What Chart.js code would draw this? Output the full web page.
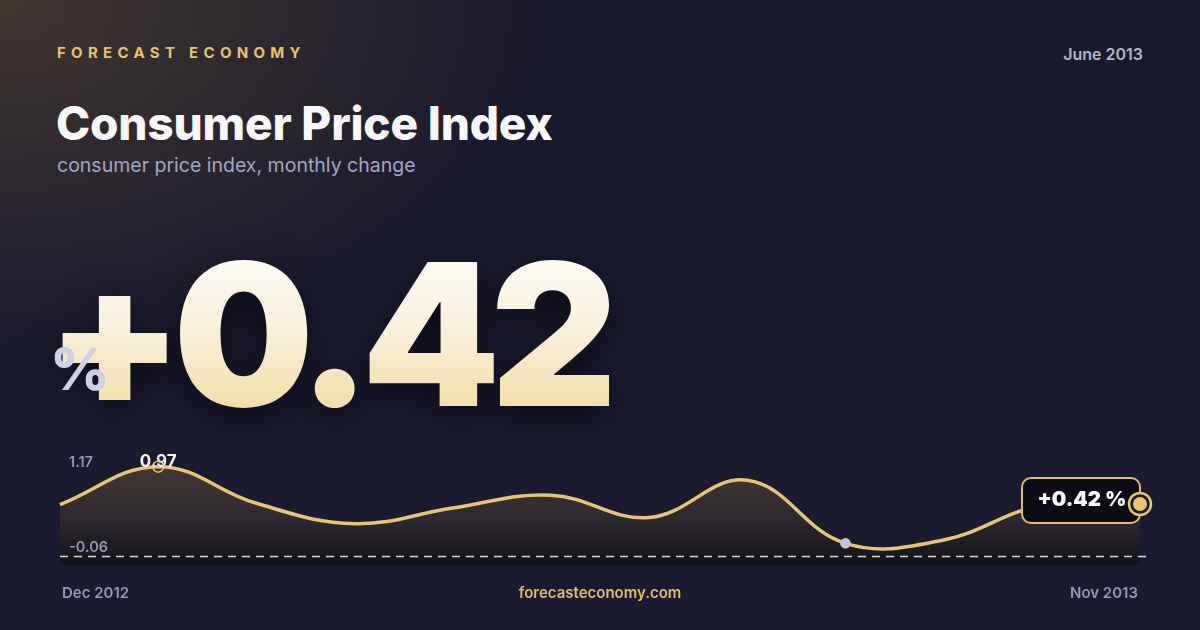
<!DOCTYPE html>
<html>
<head>
<meta charset="utf-8">
<script src="https://cdn.jsdelivr.net/npm/chart.js@4.4.1/dist/chart.umd.min.js"></script>
<style>
  html, body { margin: 0; padding: 0; }
  body {
    width: 1200px; height: 630px; overflow: hidden; position: relative;
    font-family: Inter, "Noto Sans", sans-serif;
    background:
      radial-gradient(ellipse 560px 360px at 0% 0%, rgba(92, 74, 52, 0.6), rgba(92, 74, 52, 0) 100%),
      linear-gradient(180deg, #19192c 0%, #1a1a31 100%);
  }
  .abs { position: absolute; white-space: nowrap; line-height: 1; }
  #brand { left: 57px; top: 45px; font-size: 15px; font-weight: 700; letter-spacing: 5.3px; color: #e6c46f; }
  #date { right: 57px; top: 46px; font-size: 16px; font-weight: 600; color: #b3b5cc; }
  #title { left: 56px; top: 100px; font-size: 46px; font-weight: 800; color: #f8f8fb; letter-spacing: -0.2px; }
  #subtitle { left: 57px; top: 156px; font-size: 19.5px; font-weight: 400; color: #a3a6c4; }
  #headline {
    left: 46px; top: 235px; font-size: 198px; font-weight: 900; letter-spacing: -10px;
    background: linear-gradient(180deg, #fefefc 0%, #f9f1de 45%, #f2d998 100%);
    -webkit-background-clip: text; background-clip: text;
    -webkit-text-fill-color: transparent; color: transparent;
    filter: drop-shadow(0 10px 18px rgba(0, 0, 0, 0.55));
  }
  #unit { left: 50px; top: 340px; font-size: 58px; font-weight: 800; color: #cdd1e6; }
  .ylab { font-size: 14.5px; font-weight: 600; color: #9497b8; }
  #ymax { left: 69px; top: 455px; }
  #ymin { left: 69px; top: 540px; }
  .foot { top: 585px; font-size: 15px; font-weight: 600; color: #9597b7; }
  #start { left: 62px; }
  #end { right: 62px; }
  #site { left: 0; width: 1200px; text-align: center; color: #dfbf6c; }
  #chartBox { position: absolute; left: 40px; top: 430px; width: 1120px; height: 145px; }
</style>
</head>
<body>
<div class="abs" id="brand">FORECAST ECONOMY</div>
<div class="abs" id="date">June 2013</div>
<div class="abs" id="title">Consumer Price Index</div>
<div class="abs" id="subtitle">consumer price index, monthly change</div>
<div class="abs" id="headline"></div>
<div class="abs" id="unit">%</div>
<div id="chartBox"><canvas id="cpiChart"></canvas></div>
<div class="abs ylab" id="ymax"></div>
<div class="abs ylab" id="ymin"></div>
<div class="abs foot" id="start"></div>
<div class="abs foot" id="site">forecasteconomy.com</div>
<div class="abs foot" id="end"></div>
<script>
const months = ['Dec 2012', 'Jan 2013', 'Feb 2013', 'Mar 2013', 'Apr 2013', 'May 2013',
    'Jun 2013', 'Jul 2013', 'Aug 2013', 'Sep 2013', 'Oct 2013', 'Nov 2013'];
const cpiChange = [0.41, 0.97, 0.43, 0.13, 0.36, 0.55, 0.22, 0.77, -0.16, -0.11, 0.40, 0.42];
const rangeLabels = ['1.17', '-0.06'];

const GOLD = '#e8c572';
const lastIdx = cpiChange.length - 1;
const peakIdx = cpiChange.indexOf(Math.max(...cpiChange));
const lowIdx = cpiChange.indexOf(Math.min(...cpiChange));

function signed(v) {
    return (v >= 0 ? '+' : '') + v.toFixed(2);
}

document.getElementById('headline').textContent = signed(cpiChange[lastIdx]);
document.getElementById('ymax').textContent = rangeLabels[0];
document.getElementById('ymin').textContent = rangeLabels[1];
document.getElementById('start').textContent = months[0];
document.getElementById('end').textContent = months[lastIdx];

function roundRect(ctx, x, y, w, h, r) {
    ctx.beginPath();
    ctx.moveTo(x + r, y);
    ctx.arcTo(x + w, y, x + w, y + h, r);
    ctx.arcTo(x + w, y + h, x, y + h, r);
    ctx.arcTo(x, y + h, x, y, r);
    ctx.arcTo(x, y, x + w, y, r);
    ctx.closePath();
}

// baseline, peak / low / latest markers and the value badge
const markers = {
    id: 'markers',
    afterDatasetsDraw(chart) {
        const ctx = chart.ctx;
        const area = chart.chartArea;
        const pts = chart.getDatasetMeta(0).data;
        ctx.save();

        ctx.strokeStyle = 'rgba(255,255,255,0.85)';
        ctx.lineWidth = 1.5;
        ctx.setLineDash([8, 6]);
        ctx.beginPath();
        ctx.moveTo(area.left, area.bottom - 8.5);
        ctx.lineTo(area.right + 6, area.bottom - 8.5);
        ctx.stroke();
        ctx.setLineDash([]);

        const peak = pts[peakIdx];
        ctx.fillStyle = '#f4f2ee';
        ctx.font = '700 17px Inter';
        ctx.textAlign = 'center';
        ctx.textBaseline = 'middle';
        ctx.fillText(cpiChange[peakIdx].toFixed(2), peak.x, peak.y - 5);
        ctx.strokeStyle = GOLD;
        ctx.lineWidth = 1.5;
        ctx.beginPath();
        ctx.arc(peak.x, peak.y, 5.5, 0, Math.PI * 2);
        ctx.stroke();

        const low = pts[lowIdx];
        ctx.fillStyle = '#c3c6da';
        ctx.beginPath();
        ctx.arc(low.x, low.y, 5.3, 0, Math.PI * 2);
        ctx.fill();

        const last = pts[lastIdx];
        roundRect(ctx, last.x - 118, last.y - 26, 118, 45, 9);
        ctx.fillStyle = '#0b0c18';
        ctx.fill();
        ctx.strokeStyle = '#e0bd67';
        ctx.lineWidth = 2;
        ctx.stroke();
        ctx.fillStyle = '#ffffff';
        ctx.font = '900 20.5px Inter';
        ctx.fillText(signed(cpiChange[lastIdx]) + ' %', last.x - 58, last.y - 4);

        ctx.fillStyle = '#1e1b22';
        ctx.beginPath();
        ctx.arc(last.x, last.y, 11, 0, Math.PI * 2);
        ctx.fill();
        ctx.strokeStyle = GOLD;
        ctx.lineWidth = 2.5;
        ctx.stroke();
        ctx.fillStyle = GOLD;
        ctx.beginPath();
        ctx.arc(last.x, last.y, 7, 0, Math.PI * 2);
        ctx.fill();

        ctx.restore();
    }
};

function areaFill(context) {
    const area = context.chart.chartArea;
    if (!area) return 'rgba(0,0,0,0)';
    const g = context.chart.ctx.createLinearGradient(0, area.top, 0, area.bottom);
    g.addColorStop(0, '#4c3e36');
    g.addColorStop(0.6, '#2f2930');
    g.addColorStop(1, '#13121b');
    return g;
}

new Chart(document.getElementById('cpiChart').getContext('2d'), {
    type: 'line',
    data: {
        labels: months,
        datasets: [{
            data: cpiChange,
            borderColor: GOLD,
            borderWidth: 3.5,
            tension: 0.4,
            fill: 'start',
            backgroundColor: areaFill,
            pointRadius: 0,
            clip: false
        }]
    },
    options: {
        responsive: true,
        maintainAspectRatio: false,
        animation: false,
        layout: { padding: { left: 20, right: 20, top: 15, bottom: 10 } },
        plugins: { legend: { display: false }, tooltip: { enabled: false } },
        scales: {
            x: { display: false, offset: false },
            y: { display: false, min: -0.48, max: 1.29 }
        }
    },
    plugins: [markers]
});
</script>
</body>
</html>
